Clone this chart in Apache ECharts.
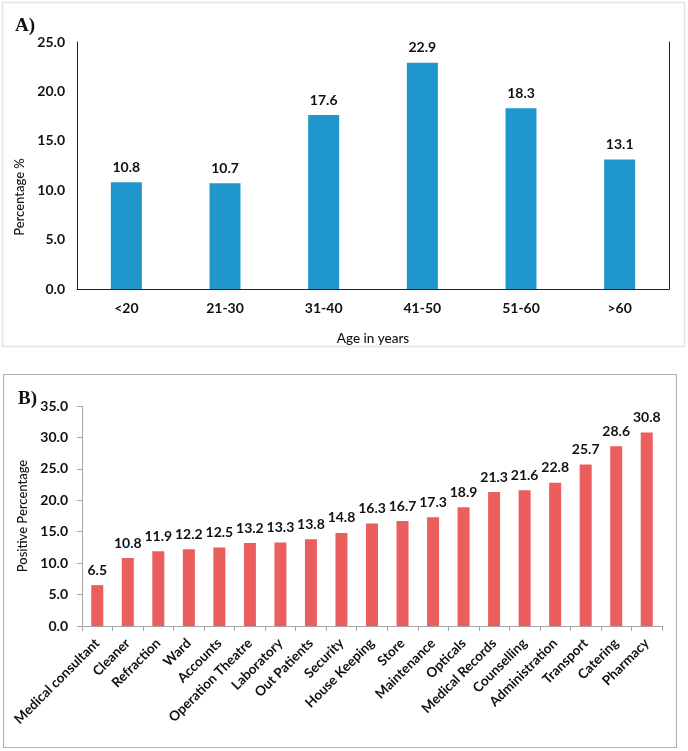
<!DOCTYPE html>
<html>
<head>
<meta charset="utf-8">
<script src="https://cdn.jsdelivr.net/npm/echarts@6/dist/echarts.min.js"></script>
<style>
html,body{margin:0;padding:0;background:#fff;}
#chart{width:688px;height:751px;}
</style>
</head>
<body>
<div id="chart"></div>
<script>
var ageCategories = ['<20', '21-30', '31-40', '41-50', '51-60', '>60'];
var ageValues = [10.8, 10.7, 17.6, 22.9, 18.3, 13.1];
var ageTicks = [0, 5, 10, 15, 20, 25];

var deptCategories = ['Medical consultant', 'Cleaner', 'Refraction', 'Ward', 'Accounts', 'Operation Theatre',
  'Laboratory', 'Out Patients', 'Security', 'House Keeping', 'Store', 'Maintenance', 'Opticals',
  'Medical Records', 'Counselling', 'Administration', 'Transport', 'Catering', 'Pharmacy'];
var deptValues = [6.5, 10.8, 11.9, 12.2, 12.5, 13.2, 13.3, 13.8, 14.8, 16.3, 16.7, 17.3, 18.9,
  21.3, 21.6, 22.8, 25.7, 28.6, 30.8];
var deptTicks = [0, 5, 10, 15, 20, 25, 30, 35];

var FONT = 'Lato, "Open Sans", sans-serif';
var chart = echarts.init(document.getElementById('chart'), null, {renderer: 'canvas'});

var option = {
  backgroundColor: '#fff',
  animation: false,
  grid: [
    {left: 77, right: 19, top: 42, bottom: 462},
    {left: 82, right: 26, top: 406, bottom: 125}
  ],
  xAxis: [
    {
      type: 'category', gridIndex: 0, data: ageCategories,
      name: 'Age in years', nameLocation: 'middle', nameGap: 43,
      nameTextStyle: {fontFamily: FONT, fontSize: 13.5, color: '#111', fontWeight: 500},
      axisLine: {lineStyle: {color: '#bdbdbd', width: 1}},
      axisTick: {show: false},
      axisLabel: {fontFamily: FONT, fontSize: 14, fontWeight: 'bold', color: '#111', margin: 12}
    },
    {
      type: 'category', gridIndex: 0, position: 'top', data: ageCategories,
      axisLine: {lineStyle: {color: '#222', width: 1}},
      axisTick: {show: false}, axisLabel: {show: false}
    },
    {
      type: 'category', gridIndex: 1, data: deptCategories,
      axisLine: {lineStyle: {color: '#a6a6a6', width: 1}},
      axisTick: {show: true, length: 5, alignWithLabel: false, lineStyle: {color: '#a6a6a6'}},
      axisLabel: {fontFamily: FONT, fontSize: 13.5, fontWeight: 'bold', color: '#111', rotate: 45, margin: 15, interval: 0}
    }
  ],
  yAxis: [
    {
      type: 'value', gridIndex: 0, min: 0, max: 25, interval: 5,
      axisLine: {show: true, lineStyle: {color: '#222', width: 1}},
      axisTick: {show: false},
      splitLine: {show: false},
      axisLabel: {fontFamily: FONT, fontSize: 14, fontWeight: 'bold', color: '#111', margin: 12,
        formatter: function (v) { return ageTicks.indexOf(v) >= 0 ? v.toFixed(1) : ''; }}
    },
    {
      type: 'value', gridIndex: 0, position: 'right', min: 0, max: 25, interval: 5,
      axisLine: {show: true, lineStyle: {color: '#222', width: 1}},
      axisTick: {show: false}, axisLabel: {show: false}, splitLine: {show: false}
    },
    {
      type: 'value', gridIndex: 1, min: 0, max: 35, interval: 5,
      name: 'Positive Percentage', nameLocation: 'middle', nameGap: 47,
      nameTextStyle: {fontFamily: FONT, fontSize: 13, color: '#111', fontWeight: 500},
      axisLine: {show: true, lineStyle: {color: '#a6a6a6', width: 1}},
      axisTick: {show: true, length: 5, lineStyle: {color: '#a6a6a6'}},
      splitLine: {show: false},
      axisLabel: {fontFamily: FONT, fontSize: 14, fontWeight: 'bold', color: '#111', margin: 14,
        formatter: function (v) { return deptTicks.indexOf(v) >= 0 ? v.toFixed(1) : ''; }}
    }
  ],
  series: [
    {
      type: 'bar', xAxisIndex: 0, yAxisIndex: 0, data: ageValues, barWidth: 31,
      itemStyle: {color: '#1f97cc'},
      label: {show: true, position: 'top', distance: 8, fontFamily: FONT, fontSize: 14, fontWeight: 'bold', color: '#111',
        formatter: function (p) { return p.value.toFixed(1); }}
    },
    {
      type: 'bar', xAxisIndex: 2, yAxisIndex: 2, data: deptValues, barWidth: 12,
      itemStyle: {color: '#ec5d5d'},
      label: {show: true, position: 'top', distance: 8, fontFamily: FONT, fontSize: 14, fontWeight: 'bold', color: '#111',
        formatter: function (p) { return p.value.toFixed(1); }}
    }
  ],
  graphic: [
    {type: 'rect', shape: {x: 2.5, y: 2.5, width: 682, height: 344}, style: {fill: 'none', stroke: '#e3e3e3', lineWidth: 1.5}, silent: true, z: -1},
    {type: 'rect', shape: {x: 3.5, y: 374.5, width: 673, height: 373}, style: {fill: 'none', stroke: '#b3b3b3', lineWidth: 1.2}, silent: true, z: -1},
    {type: 'text', left: 15, top: 17, style: {text: 'A)', fontFamily: '"Liberation Serif", serif', fontSize: 19, fontWeight: 'bold', fill: '#111'}},
    {type: 'text', left: 18, top: 390, style: {text: 'B)', fontFamily: '"Liberation Serif", serif', fontSize: 19, fontWeight: 'bold', fill: '#111'}},
    {type: 'text', x: 20, y: 197, rotation: Math.PI / 2,
      style: {text: 'Percentage %', fontFamily: FONT, fontSize: 13, fontWeight: 500, fill: '#111', textAlign: 'center', textVerticalAlign: 'middle'}}
  ]
};
chart.setOption(option);
</script>
</body>
</html>
